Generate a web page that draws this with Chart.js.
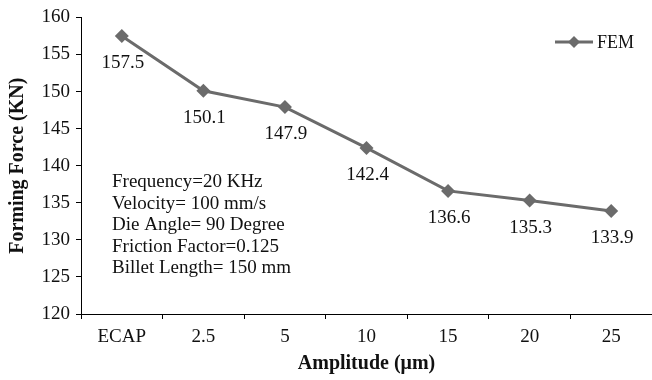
<!DOCTYPE html>
<html><head><meta charset="utf-8">
<script src="https://cdn.jsdelivr.net/npm/chart.js@4"></script>
<style>html,body{margin:0;padding:0;background:#fff}#wrap{width:652px;height:380px}</style>
</head><body><div id="wrap"><canvas id="c" width="652" height="380"></canvas></div>
<script>
const categories = ["ECAP", "2.5", "5", "10", "15", "20", "25"];
const femValues = [157.5, 150.1, 147.9, 142.4, 136.6, 135.3, 133.9];
const seriesName = "FEM";
const yTitle = "Forming Force (KN)";
const xTitle = "Amplitude (\u03bcm)";
const infoLines = ["Frequency=20 KHz", "Velocity= 100 mm/s", "Die Angle= 90 Degree", "Friction Factor=0.125", "Billet Length= 150 mm"];

const serif = "'Liberation Serif', 'Times New Roman', serif";
const lineColor = "#6b6b6b";

const extras = {
  id: "extras",
  afterDatasetsDraw(chart) {
    const ctx = chart.ctx;
    const meta = chart.getDatasetMeta(0);
    ctx.save();
    ctx.fillStyle = "#111";
    ctx.font = "19px " + serif;
    ctx.textAlign = "center";
    ctx.textBaseline = "middle";
    meta.data.forEach((pt, i) => {
      ctx.fillText(femValues[i].toFixed(1), pt.x + 1, pt.y + 27);
    });
    // info block
    ctx.textAlign = "left";
    const ca = chart.chartArea;
    infoLines.forEach((t, i) => {
      ctx.fillText(t, ca.left + 31, 182 + i * 21.6);
    });
    // legend
    const ly = 42;
    ctx.strokeStyle = lineColor;
    ctx.lineWidth = 3;
    ctx.beginPath(); ctx.moveTo(555, ly); ctx.lineTo(593, ly); ctx.stroke();
    ctx.fillStyle = lineColor;
    ctx.beginPath(); ctx.moveTo(574, ly - 6); ctx.lineTo(580, ly); ctx.lineTo(574, ly + 6); ctx.lineTo(568, ly); ctx.closePath(); ctx.fill();
    ctx.fillStyle = "#111";
    ctx.font = "18px " + serif;
    ctx.fillText(seriesName, 597, ly + 1);
    ctx.restore();
  }
};

new Chart(document.getElementById("c"), {
  type: "line",
  data: {
    labels: categories,
    datasets: [{
      label: seriesName,
      data: femValues,
      borderColor: lineColor,
      backgroundColor: lineColor,
      borderWidth: 3,
      pointStyle: "rectRot",
      pointRadius: 7,
      pointBackgroundColor: lineColor,
      pointBorderWidth: 0,
      tension: 0
    }]
  },
  options: {
    responsive: false,
    animation: false,
    layout: { autoPadding: false, padding: { top: 16, right: -2, left: 0, bottom: 0 } },
    plugins: { legend: { display: false }, tooltip: { enabled: false } },
    scales: {
      x: {
        offset: true,
        grid: { display: true, drawOnChartArea: false, offset: true, tickLength: 5, color: "#000" },
        border: { color: "#000", width: 1 },
        ticks: { color: "#111", font: { family: serif, size: 19 }, padding: 7 },
        title: { display: true, text: xTitle, color: "#111", font: { family: serif, size: 20, weight: "bold" }, padding: { top: 0 } },
        afterFit(s) { s.height = 66; s.paddingLeft = 0; s.paddingRight = 0; }
      },
      y: {
        min: 120, max: 160,
        ticks: { stepSize: 5, color: "#111", font: { family: serif, size: 19 }, padding: 6 },
        grid: { display: true, drawOnChartArea: false, tickLength: 5, color: "#000" },
        border: { color: "#000", width: 1 },
        title: { display: true, text: yTitle, color: "#111", font: { family: serif, size: 20, weight: "bold" }, padding: { top: 6, bottom: 0 } },
        afterFit(s) { s.width = 81; }
      }
    }
  },
  plugins: [extras]
});
</script>
</body></html>
